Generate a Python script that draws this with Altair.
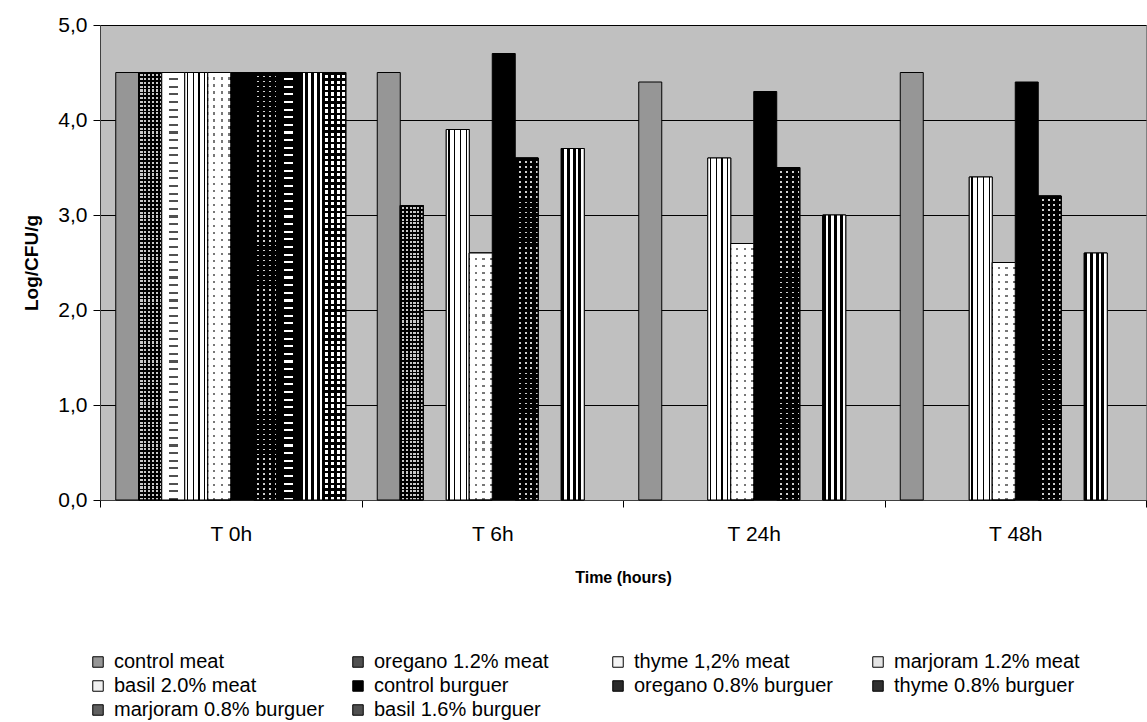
import altair as alt
import pandas as pd

# ---------------- data ----------------
times = ["T 0h", "T 6h", "T 24h", "T 48h"]
series = [
    "\u00a0control meat", "oregano 1.2% meat", "thyme 1,2% meat", "marjoram 1.2% meat",
    "basil 2.0% meat", "\u00a0control burguer", "oregano 0.8% burguer", "thyme 0.8% burguer",
    "marjoram 0.8% burguer", "basil 1.6% burguer",
]
control_meat = [4.5, 4.5, 4.4, 4.5]
oregano_meat = [4.5, 3.1, None, None]
thyme_meat = [4.5, None, None, None]
marjoram_meat = [4.5, 3.9, 3.6, 3.4]
basil_meat = [4.5, 2.6, 2.7, 2.5]
control_burguer = [4.5, 4.7, 4.3, 4.4]
oregano_burguer = [4.5, 3.6, 3.5, 3.2]
thyme_burguer = [4.5, None, None, None]
marjoram_burguer = [4.5, 3.7, 3.0, 2.6]
basil_burguer = [4.5, None, None, None]
all_values = [control_meat, oregano_meat, thyme_meat, marjoram_meat, basil_meat,
              control_burguer, oregano_burguer, thyme_burguer, marjoram_burguer, basil_burguer]

rows = []
for i, (name, vals) in enumerate(zip(series, all_values)):
    for t, v in zip(times, vals):
        if v is not None:
            rows.append({"time": t, "series": name, "idx": i, "value": v})
df = pd.DataFrame(rows)

# ---------------- styling ----------------
W, H = 1046, 475
PX_PER_UNIT = H / 5.0
FONT = "Liberation Sans"
CLEAR = "rgba(0,0,0,0)"

legend_colors = ["#969696", "#505050", "#f4f4f4", "#e4e4e4", "#f0f0f0",
                 "#000000", "#2a2a2a", "#303030", "#606060", "#505050"]


def gradient(pattern, repeats, along_x=True):
    total = sum(f for _, f in pattern) * repeats
    stops, t = [], 0.0
    for _ in range(repeats):
        for c, f in pattern:
            a = t / total
            t += f
            b = t / total
            stops.append({"offset": round(a, 5), "color": c})
            stops.append({"offset": round(min(b, 1.0), 5), "color": c})
    return {"gradient": "linear", "x1": 0, "y1": 0,
            "x2": 1 if along_x else 0, "y2": 0 if along_x else 1, "stops": stops}


# per-series pattern layers: ("v", pattern, repeats) -> stripes across width,
# ("h", pattern, period_px) -> stripes along height
patterns = {
    1: [("v", [("#000", 0.45), ("#c8c8c8", 0.55)], 6),
        ("h", [("#000", 0.45), (CLEAR, 0.55)], 3.8)],
    2: [("h", [("#ffffff", 0.72), ("#505050", 0.28)], 7.6),
        ("v", [("#ffffff", 0.3), (CLEAR, 0.4), ("#ffffff", 0.3)], 1)],
    3: [("v", [("#ffffff", 0.35), ("#000", 0.25), ("#ffffff", 0.40)], 4)],
    4: [("v", [("#ffffff", 0.7), ("#777777", 0.3)], 3),
        ("h", [("#ffffff", 0.7), (CLEAR, 0.3)], 7.0)],
    6: [("v", [("#000", 0.65), ("#d0d0d0", 0.35)], 4),
        ("h", [("#000", 0.65), (CLEAR, 0.35)], 5.0)],
    7: [("h", [("#000", 0.72), ("#ffffff", 0.28)], 7.6),
        ("v", [("#000", 0.3), (CLEAR, 0.4), ("#000", 0.3)], 1)],
    8: [("v", [("#000", 0.5), ("#ffffff", 0.5)], 4)],
    9: [("v", [("#000", 0.4), ("#ffffff", 0.6)], 4),
        ("h", [("#000", 0.4), (CLEAR, 0.6)], 5.75)],
}

x_enc = alt.X("time:N", scale=alt.Scale(domain=times, paddingInner=0, paddingOuter=0),
              axis=alt.Axis(title="Time (hours)", labelAngle=0, tickBand="extent",
                            tickSize=7, tickColor="#000", domainColor="#404040",
                            labelFont=FONT, labelFontSize=21, labelColor="#000",
                            labelPadding=16, titleFont=FONT, titleFontSize=16,
                            titleFontWeight="bold", titleColor="#000", titlePadding=25))
xo_enc = alt.XOffset("series:N",
                     scale=alt.Scale(domain=series, paddingInner=0, paddingOuter=0.685))
y_enc = alt.Y("value:Q", scale=alt.Scale(domain=[0, 5], nice=False),
              axis=alt.Axis(title="Log/CFU/g", values=[0, 1, 2, 3, 4, 5],
                            labelExpr="replace(format(datum.value, '.1f'), '.', ',')",
                            grid=True, gridColor="#000", gridWidth=1,
                            tickSize=7, tickColor="#000", domainColor="#404040",
                            labelFont=FONT, labelFontSize=21, labelColor="#000",
                            labelPadding=6, titleFont=FONT, titleFontSize=19,
                            titleFontWeight="bold", titleColor="#000", titlePadding=16))

base = alt.Chart(df).mark_bar(stroke="#000", strokeWidth=1).encode(
    x=x_enc, xOffset=xo_enc, y=y_enc,
    color=alt.Color("series:N", scale=alt.Scale(domain=series, range=legend_colors),
                    legend=alt.Legend(title=None, orient="none", legendX=-12, legendY=627,
                                      direction="horizontal", columns=4, gridAlign="all",
                                      columnPadding=23, rowPadding=4, padding=0,
                                      symbolType="square", symbolSize=110,
                                      symbolStrokeColor="#000", symbolStrokeWidth=1,
                                      labelFont=FONT, labelFontSize=20, labelColor="#000",
                                      labelOffset=6, labelLimit=400)),
)

layers = [base]
for idx, specs in patterns.items():
    sub = df[df["idx"] == idx]
    for kind, pat, n in specs:
        if kind == "v":
            layers.append(
                alt.Chart(df).transform_filter(alt.datum.idx == idx)
                .mark_bar(fill=gradient(pat, n, True), stroke="#000", strokeWidth=1)
                .encode(x=x_enc, xOffset=xo_enc, y=y_enc)
            )
        else:
            for t, v in zip(sub["time"], sub["value"]):
                reps = max(1, round(v * PX_PER_UNIT / n))
                layers.append(
                    alt.Chart(df)
                    .transform_filter((alt.datum.idx == idx) & (alt.datum.time == t))
                    .mark_bar(fill=gradient(pat, reps, False), stroke="#000", strokeWidth=1)
                    .encode(x=x_enc, xOffset=xo_enc, y=y_enc)
                )

chart = alt.layer(*layers).properties(
    width=W, height=H,
    autosize=alt.AutoSizeParams(type="none"),
    padding={"left": 100, "top": 25, "right": 1, "bottom": 222},
    background="#ffffff",
).configure_view(fill="#C0C0C0", stroke="#808080", strokeWidth=1)

chart.save("out.html", embed_options={"renderer": "svg", "actions": False})
